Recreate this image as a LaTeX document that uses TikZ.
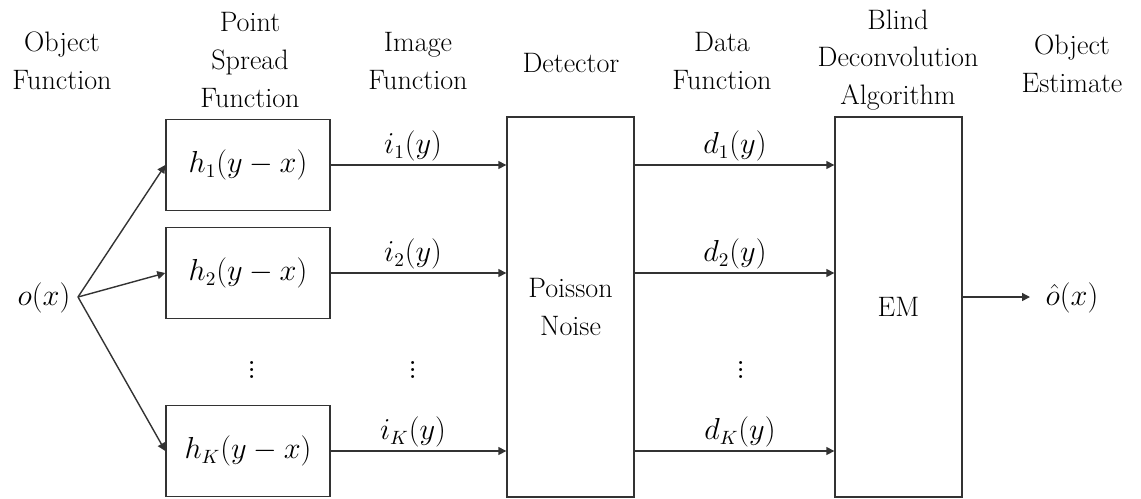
\documentclass[tikz,border=0pt]{standalone}
\usepackage{amsmath,amssymb}
\usepackage{tikz}
\usetikzlibrary{arrows.meta}

\begin{document}
\begin{tikzpicture}[x=0.02cm, y=-0.02cm,
    every node/.style={font=\fontsize{16}{21.5}\selectfont, align=center, inner sep=0pt},
    psfbox/.style={draw=black!80, line width=0.8pt, minimum width=3.28cm, minimum height=1.82cm},
    bigbox/.style={draw=black!80, line width=0.8pt, minimum width=2.54cm, minimum height=7.6cm},
    sig/.style={draw=black!80, line width=0.8pt, -{Triangle[length=1.6mm,width=1.6mm]}},
    dotsym/.style={font=\fontsize{21}{21}\selectfont\boldmath}]
  \useasboundingbox (0,0) rectangle (1141,498);
  % column headings
  \node (objlabel) at (62,61) {Object\\Function}; \node (psflabel) at
  (250,60) {Point\\Spread\\Function}; \node (imglabel) at (418,61)
  {Image\\Function}; \node (detlabel) at (571,63) {Detector}; \node
  (datalabel) at (722,61) {Data\\Function}; \node (blindlabel) at
  (898,60) {Blind\\Deconvolution\\Algorithm}; \node (estlabel) at
  (1072,64) {Object\\Estimate};
  % blocks
  \node (obj) at (44,298) {$o(x)$}; \coordinate (fan) at (78,297);
  \node [psfbox] (h1) at (248,165) {$h_1(y-x)$}; \node [psfbox] (h2)
  at (248,273) {$h_2(y-x)$}; \node [psfbox] (hK) at (248,451)
  {$h_K(y-x)$}; \node [bigbox] (det) at (570.5,307) {Poisson\\Noise};
  \node [bigbox] (em) at (898.5,307) {EM}; \node (est) at (1072,298)
  {$\hat{o}(x)$}; \coordinate (out) at (1030,297);
  % connectors
  \draw [sig] (fan) -- (h1.west); \draw [sig] (fan) -- (h2.west);
  \draw [sig] (fan) -- (hK.west); \draw [sig] (h1.east) -- (det.west
  |- h1.east); \draw [sig] (h2.east) -- (det.west |- h2.east); \draw
  [sig] (hK.east) -- (det.west |- hK.east); \draw [sig] (det.east |-
  h1.east) -- (em.west |- h1.east); \draw [sig] (det.east |- h2.east)
  -- (em.west |- h2.east); \draw [sig] (det.east |- hK.east) --
  (em.west |- hK.east); \draw [sig] (em.east |- out) -- (out);
  % signal labels
  \node (i1) at (413,146) {$i_1(y)$}; \node (i2) at (413,254)
  {$i_2(y)$}; \node (iK) at (413,432) {$i_K(y)$}; \node (d1) at
  (735,146) {$d_1(y)$}; \node (d2) at (735,254) {$d_2(y)$}; \node (dK)
  at (740,432) {$d_K(y)$};
  % dots
  \node [dotsym] (hdots) at (252,365) {$\vdots$}; \node [dotsym]
  (idots) at (413,365) {$\vdots$}; \node [dotsym] (ddots) at (741,365)
  {$\vdots$};
\end{tikzpicture}
\end{document}
